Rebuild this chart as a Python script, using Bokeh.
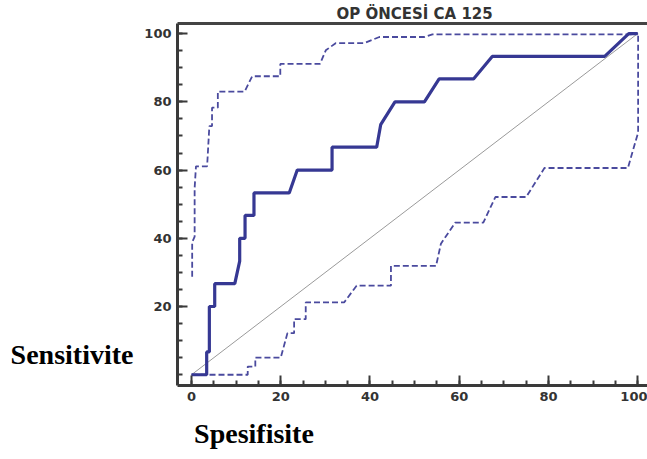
from bokeh.plotting import figure
from bokeh.models import LinearAxis, FixedTicker, Range1d
from bokeh.embed import file_html
from bokeh.resources import INLINE

# ROC curve (specificity axis as drawn, sensitivity)
roc_x = [0, 3.4, 3.4, 4.0, 4.0, 5.2, 5.2, 9.7, 10.8, 10.8, 12.0, 12.0, 14.0, 14.0,
         21.9, 23.7, 31.5, 31.5, 41.5, 42.4, 45.6, 52.2, 55.5, 63.2, 67.4, 92.6, 98.0, 100]
roc_y = [0, 0, 6.7, 6.7, 20, 20, 26.7, 26.7, 33.3, 40, 40, 46.7, 46.7, 53.3,
         53.3, 60, 60, 66.7, 66.7, 73.3, 80, 80, 86.7, 86.7, 93.3, 93.3, 100, 100]

# upper confidence bound
up_x = [0.15, 0.15, 0.7, 0.7, 1.0, 3.5, 4.0, 4.6, 4.6, 5.9, 5.9, 11.9, 13.6, 19.9,
        19.9, 28.8, 30.1, 32.3, 38.7, 42.1, 52.2, 54.0, 98.6, 100.1]
up_y = [28.7, 38.8, 40.5, 54.7, 61.1, 61.1, 72.9, 72.9, 78.3, 78.3, 83.0, 83.0, 87.5, 87.5,
        91.1, 91.1, 95.1, 97.2, 97.2, 99.0, 99.0, 99.8, 99.8, 100]

# lower confidence bound
lo_x = [0, 12.6, 12.6, 14.3, 14.3, 20.0, 21.5, 23.0, 23.0, 25.6, 25.6, 34.2, 37.0,
        44.7, 44.7, 54.8, 55.9, 59.1, 65.4, 68.1, 75.0, 79.1, 97.8, 100.1, 100.1]
lo_y = [0, 0, 2.4, 2.4, 5.0, 5.0, 12.2, 12.2, 16.3, 16.3, 21.2, 21.2, 26.1,
        26.1, 31.9, 31.9, 38.4, 44.6, 44.6, 52.1, 52.1, 60.6, 60.6, 71.0, 100]

ref_x = [0, 100]
ref_y = [0, 100]

x_major = [0, 20, 40, 60, 80, 100]
y_major = [20, 40, 60, 80, 100]
minor = [0, 5, 10, 15, 20, 25, 30, 35, 40, 45, 50, 55, 60, 65, 70, 75, 80, 85, 90, 95, 100]

title_text = "OP ÖNCESİ CA 125"
ylabel_text = "Sensitivite"
xlabel_text = "Spesifisite"

p = figure(width=647, height=459, output_backend="svg", toolbar_location=None,
           x_range=Range1d(-3.14, 102.2), y_range=Range1d(-3.15, 102.96),
           x_axis_type=None, y_axis_type=None,
           min_border_left=177, min_border_right=0, min_border_top=23,
           min_border_bottom=74)
p.outline_line_color = None
p.xgrid.visible = False
p.ygrid.visible = False
p.background_fill_color = "white"
p.border_fill_color = "white"

axis_col = "#3a3a3a"
lab_col = "#333333"

def style(ax):
    ax.axis_line_color = axis_col
    ax.axis_line_width = 3
    ax.major_tick_line_color = axis_col
    ax.major_tick_line_width = 2
    ax.minor_tick_line_color = axis_col
    ax.minor_tick_line_width = 2
    ax.major_tick_in = 10
    ax.major_tick_out = 0
    ax.minor_tick_in = 5
    ax.minor_tick_out = 0
    ax.major_label_text_font = "DejaVu Sans"
    ax.major_label_text_font_style = "bold"
    ax.major_label_text_font_size = "13px"
    ax.major_label_text_color = lab_col
    ax.major_label_standoff = 6

def text_axis(tick, label, font, size, style_, color, standoff, line=None):
    ax = LinearAxis(ticker=FixedTicker(ticks=[tick], minor_ticks=[]),
                    major_label_overrides={tick: label})
    ax.axis_line_color = line
    ax.axis_line_width = 3
    ax.major_tick_line_color = None
    ax.minor_tick_line_color = None
    ax.major_tick_in = 0
    ax.major_tick_out = 0
    ax.major_label_text_font = font
    ax.major_label_text_font_style = style_
    ax.major_label_text_font_size = size
    ax.major_label_text_color = color
    ax.major_label_standoff = standoff
    return ax

xax = LinearAxis(ticker=FixedTicker(ticks=x_major, minor_ticks=minor))
style(xax)
p.add_layout(xax, "below")

yax = LinearAxis(ticker=FixedTicker(ticks=y_major, minor_ticks=minor))
style(yax)
p.add_layout(yax, "left")

# top frame line carrying the chart title
top = text_axis(50, title_text, "DejaVu Sans", "15px", "bold", lab_col, 1, line="#444444")
p.add_layout(top, "above")

# axis titles
ylab = text_axis(6, ylabel_text, "Liberation Serif", "28px", "bold", "black", 8)
p.add_layout(ylab, "left")
xlab = text_axis(14, xlabel_text, "Liberation Serif", "28px", "bold", "black", 14)
p.add_layout(xlab, "below")

p.line(ref_x, ref_y, line_color="#9a9a9a", line_width=1)
p.line(up_x, up_y, line_color="#4a4a9e", line_width=1.8, line_dash="6 3")
p.line(lo_x, lo_y, line_color="#4a4a9e", line_width=1.8, line_dash="6 3")
p.line(roc_x, roc_y, line_color="#363893", line_width=3.2)

open("out.html", "w").write(file_html(p, INLINE))
